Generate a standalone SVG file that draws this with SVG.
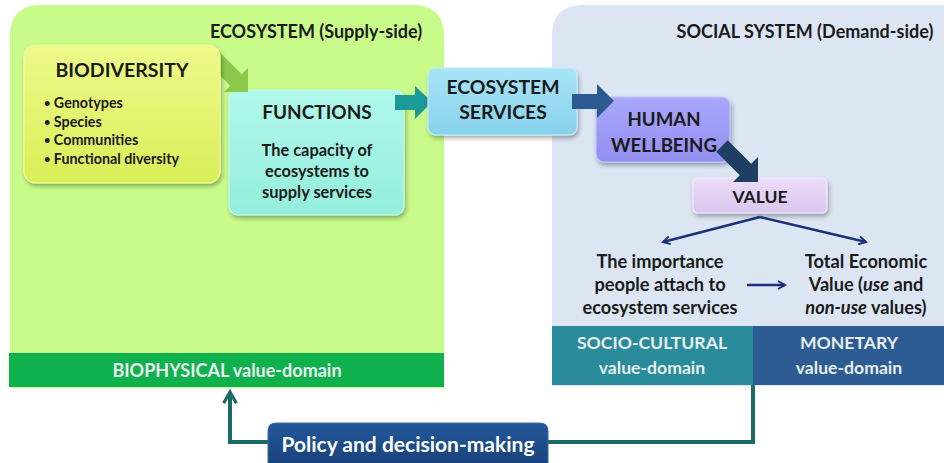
<svg xmlns="http://www.w3.org/2000/svg" width="944" height="463" viewBox="0 0 944 463">
<style>
text{font-family:Lato,"Open Sans","Liberation Sans",sans-serif;font-weight:bold;fill:#1a1a1a}
.hdr{font-size:18px;text-anchor:middle}
.ttl{font-size:19.5px;text-anchor:middle}
.bul{font-size:14.3px}
.dot{font-size:11px}
.body{font-size:16.4px;text-anchor:middle}
.vt{font-size:18.2px;text-anchor:middle}
.dom{font-size:17.6px;text-anchor:middle;fill:#e6eef0}
.box{stroke-width:1.2}
.conn{fill:none;stroke:#1b6b62;stroke-width:4}
.vl{fill:none;stroke:#1c2f78;stroke-width:2.5}
</style>
<defs>
<filter id="sh" x="-10%" y="-10%" width="130%" height="140%">
<feDropShadow dx="1.5" dy="3" stdDeviation="2" flood-color="#000" flood-opacity="0.3"/>
</filter>
<linearGradient id="gBio" x1="0" y1="0" x2="0" y2="1"><stop offset="0" stop-color="#eef98a"/><stop offset="1" stop-color="#d9ef58"/></linearGradient>
<linearGradient id="gFun" x1="0" y1="0" x2="0" y2="1"><stop offset="0" stop-color="#b0f8ec"/><stop offset="1" stop-color="#94eedc"/></linearGradient>
<linearGradient id="gEs" x1="0" y1="0" x2="0" y2="1"><stop offset="0" stop-color="#a8e4f6"/><stop offset="1" stop-color="#88d2ec"/></linearGradient>
<linearGradient id="gHw" x1="0" y1="0" x2="0" y2="1"><stop offset="0" stop-color="#aaa8fa"/><stop offset="1" stop-color="#918ef2"/></linearGradient>
<linearGradient id="gVal" x1="0" y1="0" x2="0" y2="1"><stop offset="0" stop-color="#ecdcf8"/><stop offset="1" stop-color="#dac6ee"/></linearGradient>
<linearGradient id="gPol" x1="0" y1="0" x2="0" y2="1"><stop offset="0" stop-color="#24589a"/><stop offset="1" stop-color="#163f78"/></linearGradient>
<marker id="chev" viewBox="0 0 10 10" refX="8" refY="5" markerWidth="4" markerHeight="4" orient="auto" markerUnits="strokeWidth">
<path d="M1,1 L8,5 L1,9" fill="none" stroke="#1c2f78" stroke-width="2"/>
</marker>
<marker id="chevT" viewBox="0 0 10 10" refX="8" refY="5" markerWidth="4" markerHeight="4" orient="auto" markerUnits="strokeWidth">
<path d="M1,1 L8,5 L1,9" fill="none" stroke="#1b6b62" stroke-width="2"/>
</marker>
</defs>

<rect width="944" height="463" fill="#ffffff"/>

<!-- panels -->
<g id="ecosystem-panel">
<path d="M10,388 V36 Q10,5 41,5 H413 Q444,5 444,36 V388 Z" fill="#c9fb8a"/>
<text class="hdr" x="316" y="38">ECOSYSTEM (Supply-side)</text>
</g>
<g id="social-panel">
<path d="M552,386 V36 Q552,5 583,5 H944 V386 Z" fill="#dbe6f2"/>
<text class="hdr" x="805" y="38">SOCIAL SYSTEM (Demand-side)</text>
</g>

<g id="biophysical-domain">
<rect x="9" y="353" width="435" height="34" fill="#0fb14c"/>
<text class="dom" x="227" y="377" style="font-size:18px">BIOPHYSICAL value-domain</text>
</g>
<g id="sociocultural-domain">
<rect x="552" y="326" width="201" height="59" fill="#2a8b9b"/>
<text class="dom" x="652" y="349">SOCIO-CULTURAL</text>
<text class="dom" x="652" y="374">value-domain</text>
</g>
<g id="monetary-domain">
<rect x="753" y="326" width="191" height="59" fill="#2d5c94"/>
<text class="dom" x="849" y="349">MONETARY</text>
<text class="dom" x="849" y="374">value-domain</text>
</g>

<g id="functions">
<rect class="box" x="229" y="90" width="175" height="125" rx="9" fill="url(#gFun)" stroke="#c4f8ee" filter="url(#sh)"/>
<text class="ttl" x="317" y="119" style="font-size:19px">FUNCTIONS</text>
<text class="body" x="317" y="156">The capacity of</text>
<text class="body" x="317" y="177">ecosystems to</text>
<text class="body" x="317" y="198">supply services</text>
</g>

<g id="connectors">
<!-- biodiversity -> functions -->
<polygon points="217.7,50.3 241.7,74.3 248,68 248,92 224,92 230.3,85.7 206.3,61.7" fill="#8cc94a"/>
</g>

<g id="biodiversity">
<rect class="box" x="24" y="45" width="196" height="138" rx="12" fill="url(#gBio)" stroke="#f2fb9c" filter="url(#sh)"/>
<text class="ttl" x="122" y="77">BIODIVERSITY</text>
<text class="bul" x="44" y="108"><tspan class="dot" dy="-1">•</tspan><tspan dy="1"> Genotypes</tspan></text>
<text class="bul" x="44" y="127"><tspan class="dot" dy="-1">•</tspan><tspan dy="1"> Species</tspan></text>
<text class="bul" x="44" y="145"><tspan class="dot" dy="-1">•</tspan><tspan dy="1"> Communities</tspan></text>
<text class="bul" x="44" y="164"><tspan class="dot" dy="-1">•</tspan><tspan dy="1"> Functional diversity</tspan></text>
</g>

<g id="connectors2">
<!-- functions -> ecosystem services -->
<polygon points="395,95 415,95 415,86 432,102 415,119 415,110 395,110" fill="#1a9b97"/>
</g>

<g id="ecosystem-services">
<rect class="box" x="428" y="68" width="149" height="67" rx="8" fill="url(#gEs)" stroke="#c0ecfa" filter="url(#sh)"/>
<text class="ttl" x="503" y="94" style="font-size:19.4px">ECOSYSTEM</text>
<text class="ttl" x="503" y="119" style="font-size:19.4px">SERVICES</text>
</g>

<g id="human-wellbeing">
<rect class="box" x="596" y="97" width="134" height="65" rx="8" fill="url(#gHw)" stroke="#c4c2fc" filter="url(#sh)"/>
<text class="ttl" x="664" y="126" style="font-size:18.6px">HUMAN</text>
<text class="ttl" x="664" y="152" style="font-size:18.6px">WELLBEING</text>
</g>

<g id="value">
<rect class="box" x="693" y="178" width="134" height="35" rx="5" fill="url(#gVal)" stroke="#f2e8fa" filter="url(#sh)"/>
<text class="ttl" x="760" y="203" style="font-size:17.5px">VALUE</text>
</g>

<g id="flow-arrows">
<!-- ES -> HW -->
<polygon points="572,94 597,94 597,84 614,101 597,118 597,109 572,109" fill="#2a5a8e"/>
<!-- HW -> VALUE -->
<polygon points="727.7,140.3 751.2,163.8 758,157 758,182 733,182 739.8,175.2 716.3,151.7" fill="#1e3f63"/>
<!-- value branches -->
<path class="vl" d="M760,217 L663,242" marker-end="url(#chev)"/>
<path class="vl" d="M760,217 L866,242" marker-end="url(#chev)"/>
<path class="vl" d="M747,285 L785,285" marker-end="url(#chev)"/>
<!-- policy feedback -->
<path class="conn" d="M753,385 V442 H548"/>
<path class="conn" d="M268,442 H230 V392" marker-end="url(#chevT)"/>
</g>

<g id="importance">
<text class="vt" x="660" y="268">The importance</text>
<text class="vt" x="660" y="291">people attach to</text>
<text class="vt" x="660" y="314">ecosystem services</text>
</g>
<g id="tev">
<text class="vt" x="866" y="268">Total Economic</text>
<text class="vt" x="866" y="291">Value (<tspan font-style="italic">use</tspan> and</text>
<text class="vt" x="866" y="314"><tspan font-style="italic">non-use</tspan> values)</text>
</g>

<g id="policy">
<path d="M268,470 V431 Q268,423 276,423 H540 Q548,423 548,431 V470 Z" fill="url(#gPol)" stroke="#3a6aaa" stroke-width="1"/>
<text x="408" y="452" style="font-size:21px;text-anchor:middle;fill:#ffffff">Policy and decision-making</text>
</g>
</svg>
